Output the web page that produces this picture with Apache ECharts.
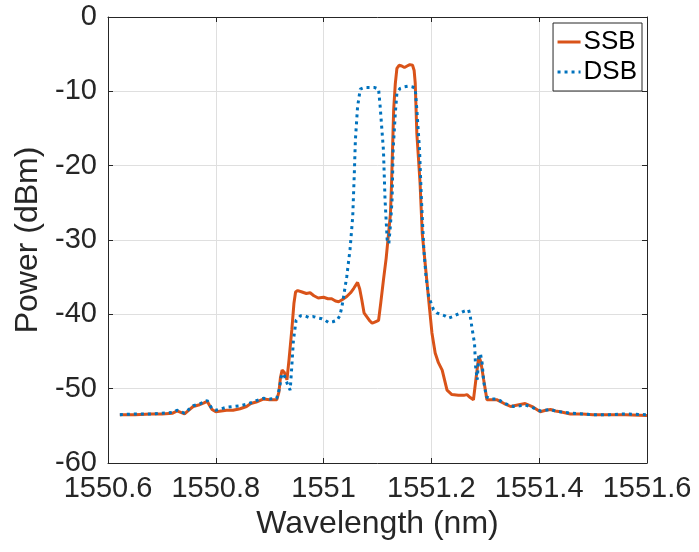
<!DOCTYPE html>
<html>
<head>
<meta charset="utf-8">
<script src="https://cdn.jsdelivr.net/npm/echarts@6/dist/echarts.min.js"></script>
<style>
html,body{margin:0;padding:0;background:#fff;}
#chart{width:699px;height:552px;}
</style>
</head>
<body>
<div id="chart"></div>
<script>
// Wavelength (nm) and power (dBm)
const ssbWavelength = [1550.622,1550.65,1550.68,1550.70,1550.72,1550.728,1550.735,1550.742,1550.75,1550.758,1550.768,1550.778,1550.784,1550.788,1550.793,1550.80,1550.81,1550.82,1550.832,1550.845,1550.857,1550.865,1550.875,1550.888,1550.900,1550.913,1550.917,1550.920,1550.923,1550.927,1550.932,1550.936,1550.941,1550.945,1550.948,1550.952,1550.960,1550.968,1550.975,1550.982,1550.990,1551.000,1551.008,1551.015,1551.022,1551.028,1551.035,1551.043,1551.050,1551.056,1551.063,1551.067,1551.071,1551.075,1551.080,1551.086,1551.090,1551.096,1551.102,1551.106,1551.111,1551.116,1551.120,1551.124,1551.126,1551.128,1551.130,1551.133,1551.136,1551.140,1551.145,1551.150,1551.155,1551.160,1551.165,1551.168,1551.170,1551.173,1551.176,1551.179,1551.183,1551.189,1551.195,1551.201,1551.207,1551.213,1551.220,1551.229,1551.238,1551.250,1551.260,1551.266,1551.272,1551.278,1551.283,1551.288,1551.292,1551.297,1551.303,1551.312,1551.322,1551.335,1551.347,1551.360,1551.374,1551.387,1551.402,1551.412,1551.421,1551.430,1551.439,1551.458,1551.48,1551.50,1551.53,1551.56,1551.60];
const ssbPower = [-53.5,-53.5,-53.4,-53.4,-53.3,-53.0,-53.2,-53.4,-52.9,-52.4,-52.2,-51.9,-51.7,-52.2,-52.8,-53.1,-53.0,-52.9,-52.9,-52.7,-52.4,-52.0,-51.8,-51.4,-51.5,-51.5,-50.5,-48.5,-47.5,-47.8,-48.8,-46.0,-42.1,-38.5,-37.0,-36.8,-37.0,-37.2,-37.1,-37.5,-37.8,-37.7,-37.9,-37.9,-38.2,-38.3,-38.0,-37.6,-37.1,-36.5,-35.7,-36.6,-38.1,-39.8,-40.3,-40.9,-41.2,-41.0,-40.8,-38.5,-35.4,-32.5,-29.5,-26.5,-22.5,-17.5,-12.5,-9.0,-6.9,-6.5,-6.6,-6.8,-6.6,-6.4,-6.5,-7.2,-8.9,-15.7,-19.0,-22.4,-29.1,-33.6,-38.1,-42.5,-45.2,-46.5,-47.5,-50.2,-50.8,-50.9,-50.9,-50.8,-51.2,-51.5,-48.5,-45.6,-46.5,-48.8,-51.5,-51.5,-51.5,-52.0,-52.4,-52.2,-52.0,-52.4,-53.1,-52.9,-52.8,-53.0,-53.1,-53.4,-53.4,-53.5,-53.5,-53.5,-53.6];

const dsbWavelength = [1550.622,1550.65,1550.68,1550.70,1550.72,1550.728,1550.735,1550.742,1550.75,1550.758,1550.768,1550.778,1550.784,1550.788,1550.793,1550.80,1550.81,1550.82,1550.832,1550.845,1550.857,1550.865,1550.875,1550.888,1550.900,1550.913,1550.918,1550.922,1550.926,1550.930,1550.934,1550.938,1550.941,1550.944,1550.949,1550.957,1550.965,1550.972,1550.981,1550.990,1550.997,1551.003,1551.009,1551.017,1551.025,1551.030,1551.034,1551.038,1551.043,1551.049,1551.054,1551.057,1551.059,1551.063,1551.068,1551.075,1551.085,1551.095,1551.102,1551.105,1551.111,1551.114,1551.118,1551.121,1551.124,1551.127,1551.129,1551.133,1551.136,1551.142,1551.150,1551.158,1551.165,1551.170,1551.173,1551.178,1551.181,1551.183,1551.186,1551.190,1551.195,1551.204,1551.210,1551.217,1551.225,1551.232,1551.240,1551.251,1551.260,1551.269,1551.272,1551.275,1551.280,1551.282,1551.285,1551.288,1551.291,1551.294,1551.297,1551.302,1551.312,1551.322,1551.337,1551.352,1551.364,1551.374,1551.387,1551.402,1551.412,1551.421,1551.430,1551.439,1551.458,1551.48,1551.50,1551.53,1551.56,1551.60];
const dsbPower = [-53.5,-53.4,-53.4,-53.3,-53.2,-52.9,-53.1,-53.3,-52.8,-52.3,-52.1,-51.8,-51.6,-52.1,-52.7,-52.9,-52.7,-52.5,-52.4,-52.3,-52.1,-51.9,-51.6,-51.3,-51.4,-51.3,-50.0,-48.2,-48.0,-48.8,-49.6,-50.2,-47.0,-43.5,-40.8,-40.2,-40.2,-40.4,-40.3,-40.5,-40.6,-40.8,-41.1,-41.0,-40.8,-40.2,-39.0,-37.2,-34.9,-31.3,-26.9,-21.0,-16.5,-12.1,-9.7,-9.5,-9.5,-9.5,-9.7,-12.1,-17.9,-24.6,-30.0,-30.5,-28.0,-24.6,-17.9,-13.0,-10.2,-9.6,-9.4,-9.3,-9.4,-9.6,-12.5,-17.9,-23.7,-26.9,-31.3,-34.9,-37.6,-39.4,-39.8,-40.0,-40.2,-40.5,-40.3,-39.9,-39.6,-39.4,-40.2,-41.7,-43.9,-47.0,-48.8,-45.7,-45.3,-46.5,-49.0,-51.1,-51.4,-51.4,-52.0,-52.4,-52.3,-52.2,-52.5,-53.0,-52.9,-52.8,-53.0,-53.1,-53.3,-53.4,-53.5,-53.5,-53.4,-53.5];

const xMin = 1550.6, xMax = 1551.6, xStep = 0.2;
const yMin = -60, yMax = 0, yStep = 10;
const seriesNames = ['SSB', 'DSB'];

const pairs = (xs, ys) => xs.map((x, i) => [x, ys[i]]);
const fontFamily = '"Liberation Sans", Arial, Helvetica, sans-serif';
const ink = '#262626';

const chart = echarts.init(document.getElementById('chart'), null, {renderer: 'canvas'});

const xBase = {
  type: 'value', min: xMin, max: xMax, interval: xStep,
  axisLine: {show: true, onZero: false, lineStyle: {color: ink, width: 1}},
  axisTick: {show: true, inside: true, length: 5, lineStyle: {color: ink}},
};
const yBase = {
  type: 'value', min: yMin, max: yMax, interval: yStep,
  axisLine: {show: true, onZero: false, lineStyle: {color: ink, width: 1}},
  axisTick: {show: true, inside: true, length: 5, lineStyle: {color: ink}},
};

chart.setOption({
  animation: false,
  backgroundColor: '#ffffff',
  textStyle: {fontFamily: fontFamily},
  grid: {left: 108, right: 52, top: 17, bottom: 89, containLabel: false},
  legend: {
    data: seriesNames,
    orient: 'vertical',
    right: 57, top: 23,
    padding: [5, 5, 5, 3],
    itemGap: 2,
    itemWidth: 23, itemHeight: 14,
    borderColor: ink, borderWidth: 1,
    backgroundColor: '#ffffff',
    itemStyle: {opacity: 0},
    lineStyle: {width: 3},
    textStyle: {fontSize: 26, color: '#000', fontFamily: fontFamily, padding: [0, 0, 0, -2], lineHeight: 28}
  },
  xAxis: [
    Object.assign({}, xBase, {
      position: 'bottom',
      name: 'Wavelength (nm)', nameLocation: 'middle', nameGap: 42,
      nameTextStyle: {fontSize: 32, color: ink, fontFamily: fontFamily},
      axisLabel: {show: true, margin: 11, fontSize: 29, color: ink, fontFamily: fontFamily,
        formatter: v => String(Math.round(v * 10) / 10)},
      splitLine: {show: true, lineStyle: {color: '#dfdfdf', width: 1}}
    }),
    Object.assign({}, xBase, {
      position: 'top',
      axisLabel: {show: false},
      splitLine: {show: false}
    })
  ],
  yAxis: [
    Object.assign({}, yBase, {
      position: 'left',
      name: 'Power (dBm)', nameLocation: 'middle', nameGap: 63,
      nameTextStyle: {fontSize: 32, color: ink, fontFamily: fontFamily},
      axisLabel: {show: true, margin: 11, fontSize: 29, color: ink, fontFamily: fontFamily},
      splitLine: {show: true, lineStyle: {color: '#dfdfdf', width: 1}}
    }),
    Object.assign({}, yBase, {
      position: 'right',
      axisLabel: {show: false},
      splitLine: {show: false}
    })
  ],
  series: [
    {
      name: seriesNames[0], type: 'line', xAxisIndex: 0, yAxisIndex: 0,
      data: pairs(ssbWavelength, ssbPower),
      showSymbol: false, symbol: 'none',
      lineStyle: {color: '#D95319', width: 3},
      itemStyle: {color: '#D95319'},
      z: 3
    },
    {
      name: seriesNames[1], type: 'line', xAxisIndex: 0, yAxisIndex: 0,
      data: pairs(dsbWavelength, dsbPower),
      showSymbol: false, symbol: 'none',
      lineStyle: {color: '#0072BD', width: 3, type: [3, 4]},
      itemStyle: {color: '#0072BD'},
      z: 4
    }
  ]
});
</script>
</body>
</html>
